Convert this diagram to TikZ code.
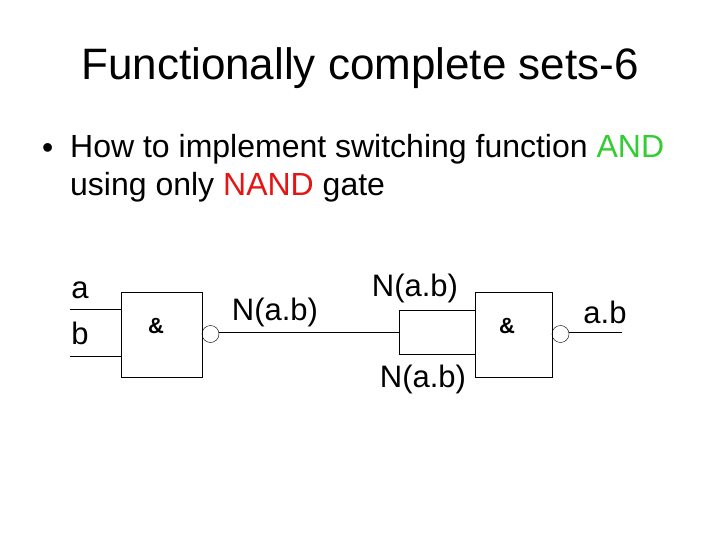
\documentclass[tikz,border=0pt]{standalone}
\usepackage{fontspec}
\setmainfont{Liberation Sans}
\usetikzlibrary{positioning}
\definecolor{andgreen}{RGB}{51,204,51}
\definecolor{nandred}{RGB}{230,20,20}
\tikzset{
  gate/.style={draw,minimum width=81pt,minimum height=85pt,inner sep=0pt},
  bubble/.style={draw,circle,minimum size=17pt,inner sep=0pt},
  amp/.style={font=\fontsize{22}{24}\selectfont\bfseries},
  lbl/.style={font=\fontsize{31}{36}\selectfont,inner sep=0pt}
}
\begin{document}
\begin{tikzpicture}[x=1pt,y=-1pt]
  \useasboundingbox (0,0) rectangle (720,540);
  % Title and text
  \node[font=\fontsize{44}{50}\selectfont] (title) at (360,68) {Functionally complete sets-6};
  \node[font=\fontsize{32}{38}\selectfont,anchor=west,inner sep=0pt] (bullet) at (42,151) {\textbullet};
  \node[font=\fontsize{32}{38}\selectfont,anchor=north west,align=left,inner sep=0pt] (text) at (70,134)
    {How to implement switching function \textcolor{andgreen}{AND}\\using only \textcolor{nandred}{NAND} gate};

  % First gate
  \node[gate] (g1) at (161.5,334.5) {};
  \node[amp] (amp1) at (156,326) {\&};
  \node[bubble] (b1) at (210.5,334) {};
  \coordinate (ina) at (70,309);
  \coordinate (inb) at (70,356);
  \draw (ina) -- (ina -| g1.west);
  \draw (inb) -- (inb -| g1.west);

  % Second gate
  \node[gate,minimum width=77pt] (g2) at (513.5,334.5) {};
  \node[amp] (amp2) at (507,326) {\&};
  \node[bubble] (b2) at (560.5,334) {};
  \coordinate (split) at (399,332);
  \coordinate (sa) at (399,310);
  \coordinate (sb) at (399,354);
  \coordinate (out) at (622,332);
  \draw (b1.east |- split) -- (split);
  \draw (sa) -- (sb);
  \draw (sa) -- (sa -| g2.west);
  \draw (sb) -- (sb -| g2.west);
  \draw (b2.east |- out) -- (out);

  % Labels
  \node[lbl] (la) at (80,290) {a};
  \node[lbl] (lb) at (80,333) {b};
  \node[lbl] (n1) at (275,312) {N(a.b)};
  \node[lbl] (n2) at (415,288) {N(a.b)};
  \node[lbl] (n3) at (423,379) {N(a.b)};
  \node[lbl] (lab) at (605,312) {a.b};
\end{tikzpicture}
\end{document}
